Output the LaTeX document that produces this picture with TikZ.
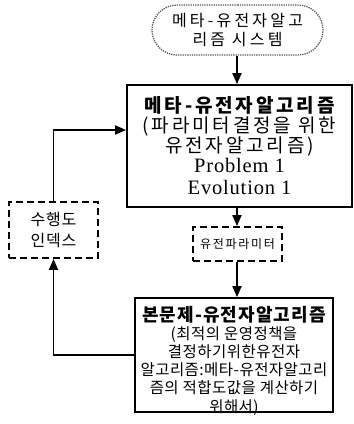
\documentclass[tikz,border=0pt]{standalone}
\usepackage{fontspec}
\newfontfamily\krA{Noto Sans CJK KR}[LetterSpace=15]
\newfontfamily\krB{Noto Sans CJK KR}[LetterSpace=3]
\newfontfamily\krBt{Noto Sans CJK KR}[LetterSpace=6]
\newfontfamily\krC{Noto Sans CJK KR}[LetterSpace=20]
\newfontfamily\krD{Noto Sans CJK KR}[LetterSpace=14]
\newfontfamily\krE{Noto Sans CJK KR}[LetterSpace=5]
\newfontfamily\lat{Liberation Serif}[LetterSpace=4]
\usetikzlibrary{arrows.meta,shapes.misc}
\tikzset{
  boxsolid/.style={draw,line width=1.8pt,inner sep=0pt,align=center},
  boxdash/.style={draw,line width=1.8pt,dash pattern=on 7pt off 4pt,inner sep=0pt,align=center},
  boxdot/.style={draw=black!65,line width=1.3pt,densely dotted,rounded rectangle,inner sep=0pt,align=center},
  txt/.style={inner sep=0pt,align=center},
  arr/.style={line width=1.8pt,-{Triangle[length=11pt,width=9pt]}}
}
\begin{document}
\begin{tikzpicture}[x=1pt,y=-1pt]
\useasboundingbox (0,0) rectangle (354,424);
\coordinate (ax) at (237,0);
\coordinate (ain) at (0,130);
\node[boxdot,minimum width=171pt,minimum height=50pt,font=\krC\fontsize{16}{19}\selectfont] (top) at (237.5,30) {메타-유전자알고\\리즘 시스템};
\node[boxsolid,minimum width=225pt,minimum height=122pt,font=\fontsize{19}{20}\selectfont] (main) at (239.5,146)
  {{\krA\bfseries 메타-유전자알고리즘}\\{\krA (파라미터결정을 위한}\\{\krA 유전자알고리즘)}\\[0pt]{\lat\fontsize{20.5}{20}\selectfont Problem 1}\\[2pt]{\lat\fontsize{20.5}{20}\selectfont Evolution 1}};
\node[boxdash,minimum width=89pt,minimum height=34pt,font=\krD\fontsize{12}{14}\selectfont] (param) at (237.5,244) {유전파라미터};
\node[boxsolid,minimum width=198pt,minimum height=114pt] (bot) at (234,355) {};
\node[txt,font=\krB\fontsize{15.5}{18}\selectfont] (bottxt) at (234,361)
  {{\krBt\bfseries\fontsize{18}{18}\selectfont 본문제-유전자알고리즘}\\(최적의 운영정책을\\결정하기위한유전자\\알고리즘:메타-유전자알고리\\즘의 적합도값을 계산하기\\[1pt]위해서)};
\node[boxdash,minimum width=89pt,minimum height=56pt,font=\krE\fontsize{16}{21}\selectfont] (perf) at (53.5,230) {수행도\\인덱스};
\draw[arr] (top.south -| ax) -- (main.north -| ax);
\draw[arr] (main.south -| ax) -- (param.north -| ax);
\draw[arr] (param.south -| ax) -- (bot.north -| ax);
\draw[arr] (bot.west) -| (perf.south);
\draw[arr] (perf.north) |- (main.west |- ain);
\end{tikzpicture}
\end{document}
